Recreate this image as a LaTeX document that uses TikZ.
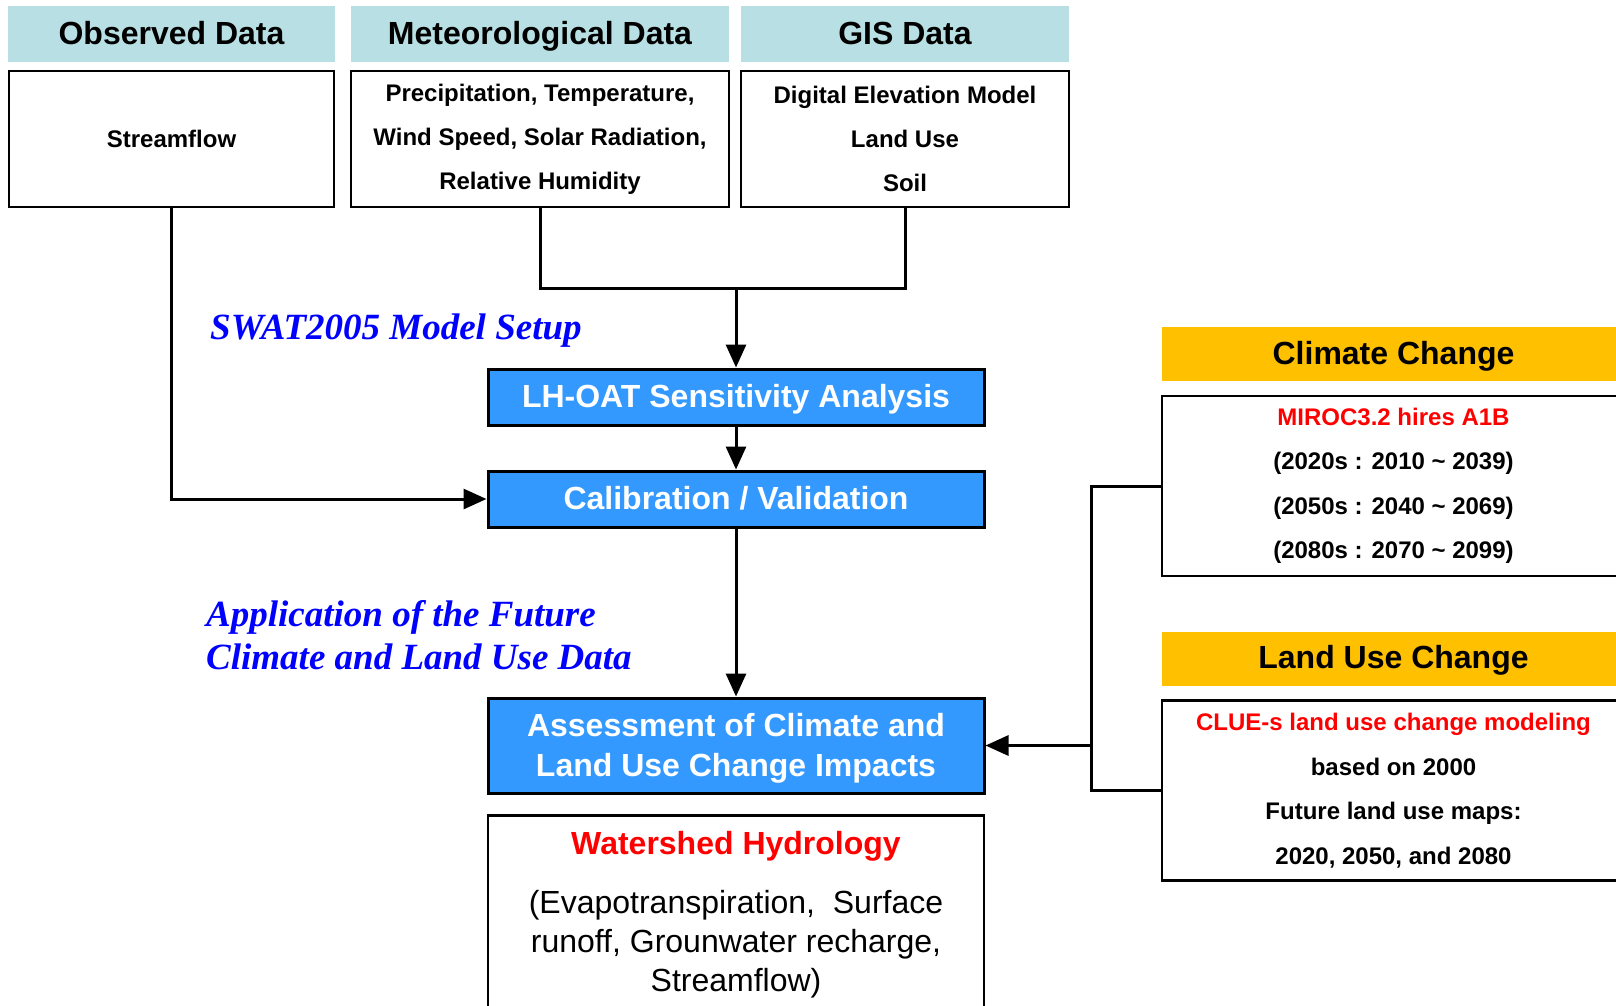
\documentclass[tikz,border=0pt]{standalone}
\usepackage{fontspec}
\setmainfont{Liberation Serif}
\setsansfont{Liberation Sans}
\usetikzlibrary{arrows.meta}
\definecolor{swatCyan}{HTML}{B8DFE3}
\definecolor{swatGold}{HTML}{FFC000}
\definecolor{swatBlue}{HTML}{3399FF}
\definecolor{swatRed}{HTML}{FF0000}
\definecolor{swatInk}{HTML}{0000FF}

\begin{document}
\begin{tikzpicture}[
        x=1pt,
        y=-1pt,
        >={Triangle[length=23pt,width=20pt]},
        hdr/.style={rectangle, fill=swatCyan, inner sep=0pt, minimum height=56pt,
                    text height=24pt, text depth=4pt,
                    font=\sffamily\bfseries\fontsize{32}{38}\selectfont},
        datbox/.style={rectangle, draw=black, line width=2.5pt, fill=white,
                       align=center, inner sep=0pt, minimum height=136pt,
                       font=\sffamily\bfseries\fontsize{24}{44}\selectfont},
        stage/.style={rectangle, draw=black, line width=3pt, fill=swatBlue,
                      text=white, align=center, inner sep=0pt, minimum width=496pt,
                      text depth=2pt,
                      font=\sffamily\bfseries\fontsize{32}{40}\selectfont},
        outbox/.style={rectangle, draw=black, line width=2.5pt, fill=white,
                       align=center, inner ysep=16pt, minimum width=496pt,
                       font=\sffamily\fontsize{32}{39}\selectfont},
        chghdr/.style={hdr, fill=swatGold, minimum width=463pt, minimum height=54pt},
        chgbox/.style={datbox, minimum width=463pt, minimum height=180pt,
                       font=\sffamily\bfseries\fontsize{24}{44.5}\selectfont},
        flow/.style={->, line width=3pt},
        link/.style={line width=3pt},
        note/.style={text=swatInk, inner sep=0pt, align=left,
                     font=\rmfamily\bfseries\itshape\fontsize{37}{43}\selectfont}
    ]

    \useasboundingbox (0,0) rectangle (1616,1005);

    % Input data headers and boxes
    \node[hdr, minimum width=327pt] (hdrObs) at (171.5,34) {Observed Data};
    \node[hdr, minimum width=378pt] (hdrMet) at (540,34)   {Meteorological Data};
    \node[hdr, minimum width=328pt] (hdrGIS) at (905,34)   {GIS Data};

    \node[datbox, minimum width=325pt] (boxObs) at (171.5,139) {Streamflow};
    \node[datbox, minimum width=378pt] (boxMet) at (540,139)
        {Precipitation, Temperature,\\ Wind Speed, Solar Radiation,\\ Relative Humidity};
    \node[datbox, minimum width=328pt] (boxGIS) at (905,139)
        {Digital Elevation Model\\ Land Use\\ Soil};

    % SWAT steps
    \node[stage, minimum height=56pt] (lhoat)  at (736,397)   {LH-OAT Sensitivity Analysis};
    \node[stage, minimum height=56pt] (calib)  at (736,499)   {Calibration / Validation};
    \node[stage, minimum height=95pt] (assess) at (736,745.5) {Assessment of Climate and\\ Land Use Change Impacts};
    \node[outbox, anchor=north] (water) at (736,814)
        {\textcolor{swatRed}{\bfseries Watershed Hydrology}\\[20pt]
         (Evapotranspiration,~ Surface\\ runoff, Grounwater recharge,\\ Streamflow)};

    % Future scenarios
    \node[chghdr] (hdrClim) at (1393.5,354) {Climate Change};
    \node[chgbox] (boxClim) at (1393.5,486)
        {\textcolor{swatRed}{MIROC3.2 hires A1B}\\ (2020s : 2010 \textasciitilde{} 2039)\\
         (2050s : 2040 \textasciitilde{} 2069)\\ (2080s : 2070 \textasciitilde{} 2099)};
    \node[chghdr] (hdrLand) at (1393.5,658.5) {Land Use Change};
    \node[chgbox] (boxLand) at (1393.5,790.5)
        {\textcolor{swatRed}{CLUE-s land use change modeling}\\ based on 2000\\
         Future land use maps:\\ 2020, 2050, and 2080};

    % Stage labels
    \node[note, anchor=base west] (setup)  at (210,339) {SWAT2005 Model Setup};
    \node[note, anchor=west]      (future) at (206,635) {Application of the Future\\ Climate and Land Use Data};

    % Connectors
    \coordinate (merge) at (736,288);
    \coordinate (fork)  at (1091,745.5);
    \draw[link] (boxMet.south) |- (merge) -| (boxGIS.south);
    \draw[flow] (merge) -- (lhoat.north);
    \draw[flow] (lhoat) -- (calib);
    \draw[flow] (boxObs.south) |- (calib.west);
    \draw[flow] (calib) -- (assess);
    \draw[link] (boxClim.west) -| (fork) |- (boxLand.west);
    \draw[flow] (fork) -- (assess.east);

\end{tikzpicture}
\end{document}
